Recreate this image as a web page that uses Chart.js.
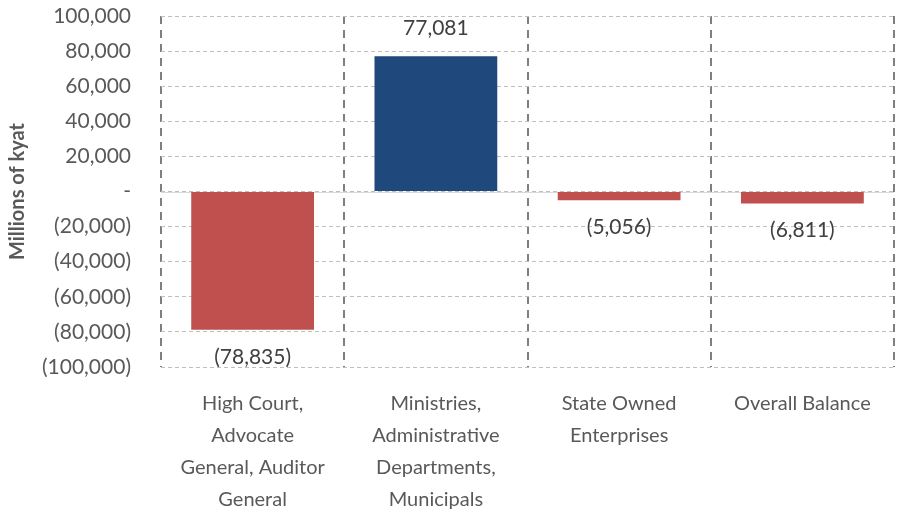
<!DOCTYPE html>
<html>
<head>
<meta charset="utf-8">
<script src="https://cdn.jsdelivr.net/npm/chart.js@4"></script>
<style>
  html, body { margin: 0; padding: 0; background: #fff; }
  #wrap { width: 897px; height: 518px; }
</style>
</head>
<body>
<div id="wrap"><canvas id="graph"></canvas></div>
<script>
const categories = [
  ['High Court,', 'Advocate', 'General, Auditor', 'General'],
  ['Ministries,', 'Administrative', 'Departments,', 'Municipals'],
  ['State Owned', 'Enterprises'],
  ['Overall Balance']
];
const balances = [-78835, 77081, -5056, -6811];
const barColors = ['#C0504D', '#1F497D', '#C0504D', '#C0504D'];
const yTicks = { min: -100000, max: 100000, step: 20000 };

Chart.defaults.font.family = 'Lato, "Open Sans", sans-serif';
Chart.defaults.font.size = 20;
Chart.defaults.color = '#595959';

function fmt(v) {
  if (v === 0) return '-';
  const s = Math.abs(v).toLocaleString('en-US');
  return v < 0 ? '(' + s + ')' : s;
}

// value labels at the outer end of each bar + solid zero line
const extras = {
  id: 'extras',
  beforeDatasetsDraw(chart) {
    const { ctx, chartArea, scales } = chart;
    const y0 = Math.round(scales.y.getPixelForValue(0)) + 0.5;
    ctx.save();
    ctx.strokeStyle = '#d9d9d9';
    ctx.lineWidth = 1;
    ctx.beginPath();
    ctx.moveTo(chartArea.left, y0);
    ctx.lineTo(chartArea.right, y0);
    ctx.stroke();
    ctx.restore();
  },
  afterDatasetsDraw(chart) {
    const { ctx } = chart;
    const meta = chart.getDatasetMeta(0);
    ctx.save();
    ctx.font = '21px Lato, "Open Sans", sans-serif';
    ctx.fillStyle = '#404040';
    ctx.textAlign = 'center';
    ctx.textBaseline = 'middle';
    meta.data.forEach((bar, i) => {
      const v = balances[i];
      const y = v >= 0 ? bar.y - 28 : bar.y + 27;
      ctx.fillText(fmt(v), bar.x, y);
    });
    ctx.restore();
  }
};

new Chart(document.getElementById('graph'), {
  type: 'bar',
  data: {
    labels: categories,
    datasets: [{
      data: balances,
      backgroundColor: barColors,
      borderWidth: 0,
      barPercentage: 0.67,
      categoryPercentage: 1
    }]
  },
  options: {
    responsive: true,
    maintainAspectRatio: false,
    animation: false,
    layout: { padding: { top: 16, right: 3, left: 0, bottom: 0 } },
    plugins: {
      legend: { display: false },
      tooltip: { enabled: false }
    },
    scales: {
      x: {
        grid: { color: '#7f7f7f', lineWidth: 2, drawTicks: false, offset: true },
        border: { display: false, dash: [8, 6] },
        ticks: { color: '#595959', padding: 21, maxRotation: 0, autoSkip: false,
                 font: { size: 20, lineHeight: 1.6 } },
        afterFit(scale) { scale.height = 151; scale.paddingLeft = 0; scale.paddingRight = 0; }
      },
      y: {
        min: yTicks.min,
        max: yTicks.max,
        grid: { color: '#bfbfbf', lineWidth: 1, drawTicks: false },
        border: { display: false, dash: [4, 3] },
        ticks: { stepSize: yTicks.step, padding: 30, callback: v => fmt(v),
                 font: { size: 21 } },
        title: { display: true, text: 'Millions of kyat', color: '#595959',
                 font: { size: 20, weight: 'bold' }, padding: { top: 6, bottom: 0 } },
        afterFit(scale) { scale.width = 161; scale.paddingTop = 0; scale.paddingBottom = 0; }
      }
    }
  },
  plugins: [extras]
});
</script>
</body>
</html>
